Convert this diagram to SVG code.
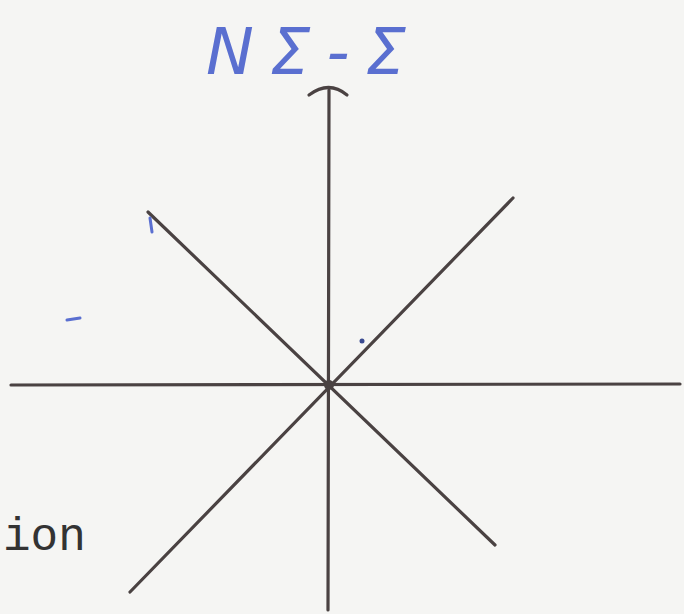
<svg xmlns="http://www.w3.org/2000/svg" width="684" height="614" viewBox="0 0 684 614">
<style>
.ln{stroke:#4a4242;stroke-width:3.2;stroke-linecap:round;fill:none}
.hand{fill:#5a6fd0;font-family:"DejaVu Sans",sans-serif;font-style:italic;font-weight:300}
.mark{stroke:#5a6fd0;stroke-width:3;stroke-linecap:round;fill:none}
.lbl{fill:#333;font-family:"Liberation Mono","Courier New",monospace}
</style>
<rect width="684" height="614" fill="#f5f5f3"/>
<g id="connectors">
<line class="ln" x1="11" y1="385" x2="680" y2="384"/>
<line class="ln" x1="329" y1="90" x2="328" y2="610"/>
<line class="ln" x1="148" y1="212" x2="495" y2="545"/>
<line class="ln" x1="513" y1="198" x2="130" y2="592"/>
<path class="ln" d="M309 95 Q329 80 347 95" stroke-width="5"/>
<circle cx="329" cy="385" r="5" fill="#4a4242"/>
</g>
<g id="title">
<text class="hand" x="206" y="74" font-size="64" textLength="200" lengthAdjust="spacing">NΣ-Σ</text>
</g>
<g id="marks">
<line class="mark" x1="67" y1="320" x2="80" y2="318"/>
<circle cx="362" cy="341" r="2.5" fill="#3a4a90"/>
<path class="mark" d="M150 218 L152 232" stroke-width="2"/>
</g>
<g id="label">
<text class="lbl" x="3" y="550" font-size="46">ion</text>
</g>
</svg>
